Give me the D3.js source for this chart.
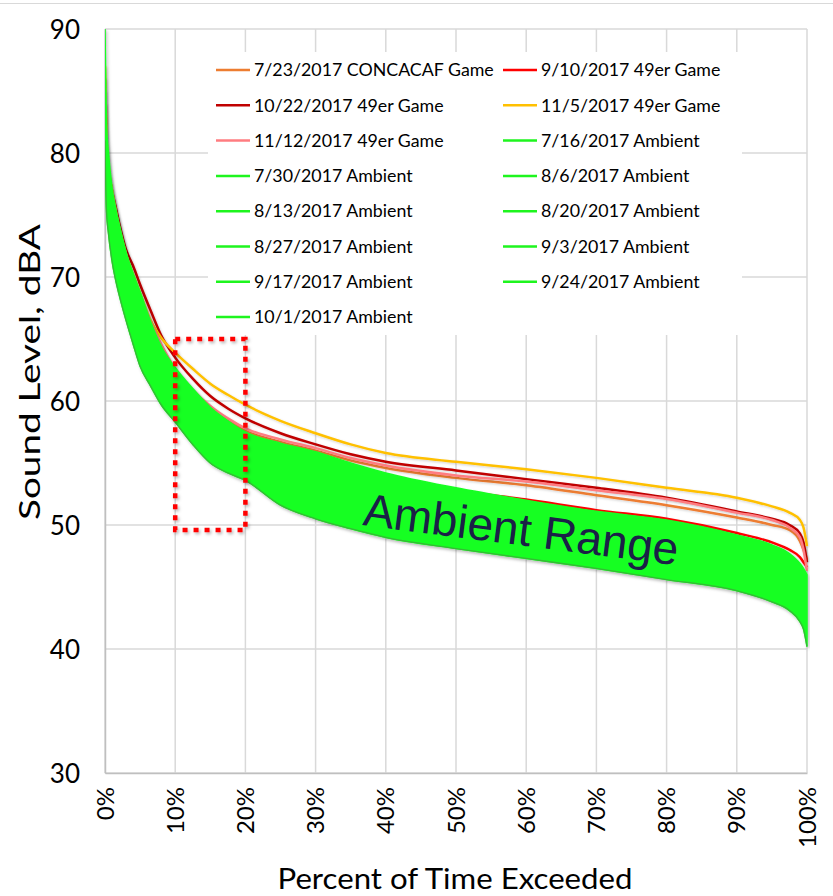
<!DOCTYPE html>
<html><head><meta charset="utf-8">
<script src="https://cdn.jsdelivr.net/npm/d3@7"></script>
<style>
html,body{margin:0;padding:0;background:#fff;}
svg{display:block;}
</style></head>
<body>
<svg id="chart" width="833" height="896"></svg>
<script>
// Percent of time exceeded (x positions shared by every series)
const pct = [0,0.2,0.5,1,1.5,2,3,4,5,6.5,8,10,12.5,15,17.5,20,25,30,35,40,50,60,70,80,90,95,97.5,99,99.5,100];

// Game-day exceedance curves, dBA
const concacaf0723 = [84,79,77,75.5,74.2,73.0,71.0,69.4,68.0,66.0,64.2,62.4,60.8,59.4,58.4,57.6,56.7,56.0,55.2,54.6,53.8,53.2,52.4,51.6,50.6,50.0,49.6,48.7,48.0,47.2];
const game0910     = [84,78,76,74.5,73.2,72.0,70.0,68.4,67.0,65.0,63.4,61.6,59.8,58.4,57.3,56.5,55.6,54.9,54.3,53.8,52.8,52.05,51.2,50.5,49.35,48.6,48.0,47.4,47.0,46.6];
const game1022     = [86,81,78.8,77,75.7,74.4,72.2,70.9,69.4,67.3,65.3,63.5,61.8,60.4,59.4,58.6,57.4,56.5,55.7,55.1,54.4,53.7,53.0,52.2,51.1,50.5,50.0,49.3,48.6,47.0];
const game1105     = [87,81.5,79,77,75.4,74.0,71.8,70.2,68.7,66.5,65.1,63.9,62.6,61.4,60.5,59.7,58.4,57.4,56.5,55.8,55.1,54.5,53.8,53.0,52.2,51.5,51.0,50.4,49.8,48.3];
const game1112     = [85,80.5,78.5,76.8,75.3,74.0,71.8,70.0,68.5,66.4,64.6,62.6,60.9,59.6,58.6,57.8,56.9,56.2,55.4,54.8,54.0,53.5,52.8,52.1,51.0,50.4,49.8,49.0,48.0,46.3];

// Envelope of the eleven ambient-day curves, dBA
const ambientUpper = [90,82.5,80,77.2,75.6,74.3,72.0,70.3,68.8,66.4,64.4,62.7,61.0,59.5,58.4,57.5,56.6,55.9,55.0,54.2,53.0,52.0,51.1,50.4,49.2,48.4,47.7,46.9,46.5,46.0];
const ambientLower = [81,75.5,73.5,71.3,69.8,68.6,66.5,64.6,62.8,61.2,59.7,58.3,56.5,55.0,54.2,53.6,51.6,50.5,49.7,49.0,48.1,47.3,46.5,45.6,44.7,43.8,43.1,42.2,41.6,40.2];

const gameNames  = ["7/23/2017 CONCACAF Game","9/10/2017 49er Game","10/22/2017 49er Game","11/5/2017 49er Game","11/12/2017 49er Game"];
const gameColors = ["#ed7d31","#ff0000","#c00000","#ffc000","#ff7c80"];
const ambientNames = ["7/16/2017 Ambient","7/30/2017 Ambient","8/6/2017 Ambient","8/13/2017 Ambient","8/20/2017 Ambient","8/27/2017 Ambient","9/3/2017 Ambient","9/17/2017 Ambient","9/24/2017 Ambient","10/1/2017 Ambient"];
const ambientColor = "#1ef51e";

const yTicks = [30,40,50,60,70,80,90];
const xTicks = [0,10,20,30,40,50,60,70,80,90,100];
const xTickLabels = ["0%","10%","20%","30%","40%","50%","60%","70%","80%","90%","100%"];

// Highlight box (percent range, dBA range)
const boxPct = [10,20];
const boxDb  = [49.6,65];

const gameSeries = [concacaf0723, game0910, game1022, game1105, game1112];

const svg = d3.select("#chart");
const W = 833, H = 896;
const plot = {left:105, right:807, top:29, bottom:773};

const x = d3.scaleLinear().domain([0,100]).range([plot.left, plot.right]);
const y = d3.scaleLinear().domain([30,90]).range([plot.bottom, plot.top]);

const defs = svg.append("defs");
defs.append("clipPath").attr("id","plotClip").append("rect")
  .attr("x",plot.left).attr("y",plot.top-2).attr("width",plot.right-plot.left+3).attr("height",plot.bottom-plot.top+2);
const sh = defs.append("filter").attr("id","shadow").attr("x","-10%").attr("y","-10%").attr("width","130%").attr("height","130%");
sh.append("feDropShadow").attr("dx",1.5).attr("dy",2).attr("stdDeviation",1.5).attr("flood-color","#000").attr("flood-opacity",0.28);
const sh2 = defs.append("filter").attr("id","lineShadow").attr("x","-10%").attr("y","-10%").attr("width","130%").attr("height","130%");
sh2.append("feDropShadow").attr("dx",1).attr("dy",1.2).attr("stdDeviation",0.8).attr("flood-color","#000").attr("flood-opacity",0.18);

// chart area top border
svg.append("line").attr("x1",0).attr("x2",W).attr("y1",3.5).attr("y2",3.5)
  .attr("stroke","#d9d9d9").attr("stroke-width",1);

// gridlines
const grid = svg.append("g");
grid.selectAll("line.h").data(yTicks).join("line")
  .attr("x1",plot.left).attr("x2",plot.right)
  .attr("y1",d=>y(d)).attr("y2",d=>y(d))
  .attr("stroke","#d9d9d9").attr("stroke-width",1.5);
grid.selectAll("line.v").data(xTicks).join("line")
  .attr("x1",d=>x(d)).attr("x2",d=>x(d))
  .attr("y1",plot.top).attr("y2",plot.bottom)
  .attr("stroke","#d9d9d9").attr("stroke-width",1.5);

// axes
const yAxis = svg.append("g").attr("transform",`translate(${plot.left},0)`)
  .call(d3.axisLeft(y).tickValues(yTicks).tickSize(0).tickPadding(25).tickFormat(d3.format("d")));
yAxis.select(".domain").attr("stroke","#bfbfbf").attr("stroke-width",1.5);
yAxis.selectAll("text").attr("font-family","Lato, 'Open Sans', sans-serif").attr("font-size",26).attr("fill","#000").attr("dy","0.35em");

const xAxis = svg.append("g").attr("transform",`translate(0,${plot.bottom})`)
  .call(d3.axisBottom(x).tickValues(xTicks).tickSize(0).tickFormat((d,i)=>xTickLabels[i]));
xAxis.select(".domain").attr("stroke","#bfbfbf").attr("stroke-width",1.5);
xAxis.selectAll("text")
  .attr("font-family","Lato, 'Open Sans', sans-serif").attr("font-size",24).attr("fill","#000")
  .attr("text-anchor","end").attr("dy",null).attr("y",0)
  .attr("transform","translate(8,14) rotate(-90)");

// axis titles
svg.append("text").attr("x",455).attr("y",889).attr("text-anchor","middle")
  .attr("font-family","Lato, 'Open Sans', sans-serif").attr("font-size",28).attr("fill","#000")
  .attr("textLength",355).attr("lengthAdjust","spacingAndGlyphs")
  .text("Percent of Time Exceeded");
svg.append("text").attr("transform","translate(40,372) rotate(-90)").attr("text-anchor","middle")
  .attr("font-family","Lato, 'Open Sans', sans-serif").attr("font-size",28).attr("fill","#000")
  .attr("textLength",296).attr("lengthAdjust","spacingAndGlyphs")
  .text("Sound Level, dBA");

// legend panel
const legend = svg.append("g");
legend.append("rect").attr("x",208).attr("y",52).attr("width",534).attr("height",283).attr("fill","#fff");
const legendItems = gameNames.map((n,i)=>({name:n,color:gameColors[i]}))
  .concat(ambientNames.map(n=>({name:n,color:ambientColor})));
legendItems.forEach((d,i)=>{
  const col = i%2, row = Math.floor(i/2);
  const lx = 216 + col*287, ly = 70 + row*35.3;
  legend.append("line").attr("x1",lx).attr("x2",lx+34).attr("y1",ly).attr("y2",ly)
    .attr("stroke",d.color).attr("stroke-width",2.5);
  legend.append("text").attr("x",lx+38).attr("y",ly).attr("dy","0.35em")
    .attr("font-family","Lato, 'Open Sans', sans-serif").attr("font-size",17.8).attr("fill","#000")
    .text(d.name);
});

// curves
const plotG = svg.append("g").attr("clip-path","url(#plotClip)");
const line = d3.line().x((d,i)=>x(pct[i])).y(d=>y(d)).curve(d3.curveMonotoneX);

plotG.selectAll("path.game").data(gameSeries).join("path")
  .attr("class","game").attr("d",line)
  .attr("fill","none").attr("stroke",(d,i)=>gameColors[i]).attr("stroke-width",2.5)
  .attr("filter","url(#lineShadow)");

// ambient band drawn over the game lines
const band = d3.area().x((d,i)=>x(pct[i])).y0((d,i)=>y(ambientLower[i])).y1(d=>y(d)).curve(d3.curveMonotoneX);
plotG.append("path").datum(ambientUpper).attr("d",band)
  .attr("fill","#19ff24").attr("stroke","#19ff24").attr("stroke-width",1.5)
  .attr("filter","url(#shadow)");
plotG.append("path").datum(ambientLower).attr("d",line)
  .attr("fill","none").attr("stroke","#36b936").attr("stroke-width",1.3);

// highlight box
svg.append("rect")
  .attr("x",x(boxPct[0])).attr("y",y(boxDb[1]))
  .attr("width",x(boxPct[1])-x(boxPct[0])).attr("height",y(boxDb[0])-y(boxDb[1]))
  .attr("fill","none").attr("stroke","#ff0000").attr("stroke-width",4.5)
  .attr("stroke-dasharray","5 6").attr("filter","url(#shadow)");

// band annotation
svg.append("text")
  .attr("transform",`translate(${x(36.6)},${y(50)}) rotate(7.3)`)
  .attr("font-family","'Liberation Sans', Arial, sans-serif").attr("font-size",46)
  .attr("fill","#1b2047").text("Ambient Range");
</script>
</body></html>
